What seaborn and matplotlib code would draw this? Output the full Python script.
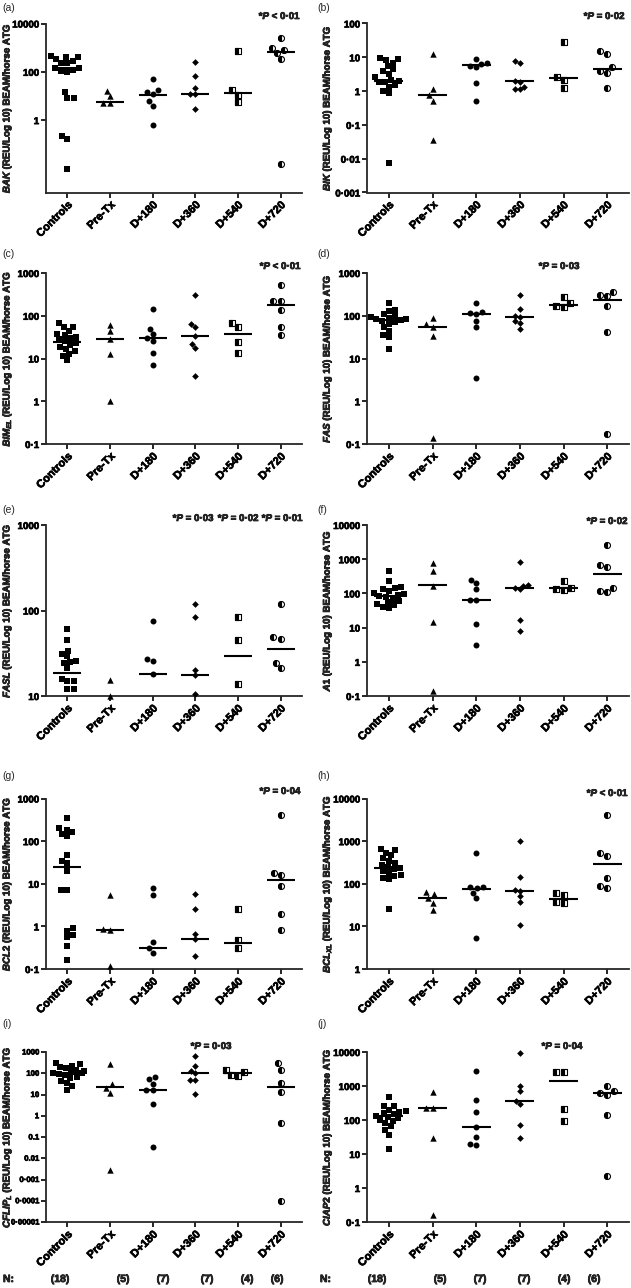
import numpy as np
import pandas as pd
import seaborn as sns
import matplotlib.pyplot as plt
import matplotlib.patheffects as pe
from matplotlib.markers import MarkerStyle
from matplotlib.ticker import NullLocator
from matplotlib.text import Text

sns.set_style("ticks")
plt.rcParams['font.family'] = ['Liberation Sans', 'DejaVu Sans']
plt.rcParams['font.weight'] = 'bold'
plt.rcParams['mathtext.fontset'] = 'custom'
plt.rcParams['mathtext.rm'] = 'Liberation Sans:bold'
plt.rcParams['mathtext.it'] = 'Liberation Sans:italic:bold'
plt.rcParams['mathtext.bf'] = 'Liberation Sans:bold'

groups = ["Controls", "Pre-Tx", "D+180", "D+360", "D+540", "D+720"]
n_counts = [18, 5, 7, 7, 4, 6]

# valores (REU), una lista por grupo
bak = [[450, 400, 400, 330, 290, 240, 230, 150, 140, 120, 110, 100, 14, 8.3, 8.3, 0.21, 0.17, 0.0093],
       [16.6, 9.7, 5.1, 5.0],
       [48, 17, 14, 12, 6.0, 3.7, 0.65],
       [257, 65, 21, 12, 12, 3.0],
       [710, 17, 11, 5.5],
       [2550, 950, 800, 600, 330, 0.015]]
bak_med = [145, 5.5, 11, 12, 13, 660]

bik = [[9.5, 9.0, 8.3, 6.9, 5.6, 4.5, 4.0, 3.3, 2.6, 2.2, 2.0, 1.9, 1.8, 1.5, 1.3, 1.0, 0.85, 0.0075],
       [12.5, 1.15, 0.75, 0.52, 0.035],
       [8.9, 6.8, 6.5, 5.7, 5.0, 1.7, 0.52],
       [7.9, 6.9, 2.0, 1.9, 1.3, 1.15, 1.15],
       [29, 2.7, 2.1, 1.2],
       [15, 12.6, 5.0, 4.0, 3.4, 1.2]]
bik_med = [2.0, 0.75, 5.9, 1.95, 2.4, 4.5]

bim = [[67, 56, 55, 45, 38, 35, 32, 30, 28, 25, 23, 21, 19, 17, 15, 13, 11.5, 9],
       [61, 43, 28, 13, 1.0],
       [146, 50, 37, 30, 26, 13.8, 6.9],
       [300, 63, 56, 33, 22, 18, 3.8],
       [67, 54, 24, 13.3],
       [530, 225, 225, 134, 54, 35]]
bim_med = [24, 28, 30, 33, 38, 174]

fas = [[200, 140, 130, 110, 100, 95, 90, 85, 82, 80, 75, 70, 65, 55, 45, 35, 32, 17],
       [89, 63, 56, 34, 0.14],
       [200, 120, 115, 110, 75, 54, 3.5],
       [310, 145, 100, 92, 75, 68, 50],
       [270, 200, 165, 160],
       [360, 300, 290, 170, 41, 0.17]]
fas_med = [81, 54, 110, 92, 175, 230]

fasl = [[60, 45, 34, 31, 29, 26, 25, 24, 21, 16, 15, 15, 12, 12],
        [15.4, 10],
        [76, 27, 25.5, 18],
        [120, 85, 20, 17.6, 10.6],
        [83, 45, 14],
        [120, 49, 47, 24.5, 21]]
fasl_med = [18.5, np.nan, 18.2, 17.6, 29.7, 35.5]

a1 = [[450, 230, 150, 140, 135, 120, 100, 95, 90, 85, 80, 70, 60, 55, 50, 45, 40, 37],
      [780, 445, 165, 14.4, 0.14],
      [250, 205, 133, 66, 64, 12.4, 3.0],
      [830, 175, 170, 145, 135, 17, 8],
      [235, 145, 135, 125],
      [2600, 680, 600, 145, 115, 112]]
a1_med = [82, 173, 66, 141, 141, 380]

bcl2 = [[355, 200, 185, 160, 150, 130, 46, 34, 30, 20, 7.2, 7.0, 0.9, 0.8, 0.62, 0.56, 0.34, 0.16],
        [5.4, 0.85, 0.82, 0.12],
        [7.8, 5.4, 0.43, 0.31, 0.24],
        [5.9, 2.6, 0.68, 0.51, 0.20],
        [2.5, 0.49, 0.31],
        [410, 18, 15.8, 8.9, 1.9, 0.81]]
bcl2_med = [24.5, 0.83, 0.31, 0.51, 0.40, 12.3]

bclxl = [[650, 620, 540, 470, 400, 350, 300, 275, 250, 230, 220, 200, 180, 160, 150, 140, 130, 26],
         [65, 56, 47, 36, 24],
         [515, 86, 82, 78, 62, 47, 5.2],
         [1000, 141, 70, 68, 52, 38, 10.7],
         [61, 54, 37, 35],
         [4100, 515, 455, 138, 90, 81]]
bclxl_med = [235, 47.5, 75, 68, 44, 295]

cflip = [[320, 260, 230, 200, 180, 150, 130, 115, 105, 100, 95, 85, 70, 60, 45, 35, 25, 17],
         [270, 31, 21, 12, 0.0029],
         [67, 54, 32, 17, 16, 3.5, 0.034],
         [670, 227, 123, 100, 50, 48, 11],
         [147, 110, 80, 75],
         [300, 147, 35, 12.6, 0.46, 0.0001]]
cflip_med = [100, 22, 17, 100, 100, 22]

ciap2 = [[470, 260, 250, 200, 185, 175, 165, 150, 135, 125, 115, 100, 95, 80, 65, 52, 37, 14],
         [660, 230, 225, 29, 0.16],
         [2700, 400, 175, 61, 31, 20, 19],
         [9300, 1020, 720, 370, 300, 72, 29],
         [2500, 2500, 210, 92],
         [980, 700, 620, 560, 145, 2.2]]
ciap2_med = [128, 225, 61, 370, 1370, 620]

paneles = [
    ("(a)", r"$\mathit{BAK}$", bak, bak_med, (1e-3, 1e4), [1, 100, 10000], ["1", "100", "10000"],
     [(r"*$\mathit{P}$ < 0·01", 280, 15)]),
    ("(b)", r"$\mathit{BIK}$", bik, bik_med, (1e-3, 1e2), [1e-3, 1e-2, 0.1, 1, 10, 100],
     ["0·001", "0·01", "0·1", "1", "10", "100"], [(r"*$\mathit{P}$ = 0·02", 605, 15)]),
    ("(c)", r"$\mathit{BIM}_{\mathit{EL}}$", bim, bim_med, (0.1, 1e3), [0.1, 1, 10, 100, 1000],
     ["0·1", "1", "10", "100", "1000"], [(r"*$\mathit{P}$ < 0·01", 281, 265)]),
    ("(d)", r"$\mathit{FAS}$", fas, fas_med, (0.1, 1e3), [0.1, 1, 10, 100, 1000],
     ["0·1", "1", "10", "100", "1000"], [(r"*$\mathit{P}$ = 0·03", 560, 265)]),
    ("(e)", r"$\mathit{FASL}$", fasl, fasl_med, (10, 1e3), [10, 100, 1000], ["10", "100", "1000"],
     [(r"*$\mathit{P}$ = 0·03", 194, 517), (r"*$\mathit{P}$ = 0·02", 239, 517),
      (r"*$\mathit{P}$ = 0·01", 283, 517)]),
    ("(f)", r"$\mathit{A1}$", a1, a1_med, (0.1, 1e4), [0.1, 1, 10, 100, 1000, 10000],
     ["0·1", "1", "10", "100", "1000", "10000"], [(r"*$\mathit{P}$ = 0·02", 608, 520)]),
    ("(g)", r"$\mathit{BCL2}$", bcl2, bcl2_med, (0.1, 1e3), [0.1, 1, 10, 100, 1000],
     ["0·1", "1", "10", "100", "1000"], [(r"*$\mathit{P}$ = 0·04", 281, 790)]),
    ("(h)", r"$\mathit{BCL}_{\mathit{XL}}$", bclxl, bclxl_med, (1, 1e4), [1, 10, 100, 1000, 10000],
     ["1", "10", "100", "1000", "10000"], [(r"*$\mathit{P}$ < 0·01", 608, 792)]),
    ("(i)", r"$\mathit{CFLIP}_{\mathit{L}}$", cflip, cflip_med, (1e-5, 1e3),
     [1e-5, 1e-4, 1e-3, 1e-2, 0.1, 1, 10, 100, 1000],
     ["0·00001", "0·0001", "0·001", "0.01", "0.1", "1", "10", "100", "1000"],
     [(r"*$\mathit{P}$ = 0·03", 212, 1045)]),
    ("(j)", r"$\mathit{CIAP2}$", ciap2, ciap2_med, (0.1, 1e4), [0.1, 1, 10, 100, 1000, 10000],
     ["0·1", "1", "10", "100", "1000", "10000"], [(r"*$\mathit{P}$ = 0·04", 563, 1045)]),
]

W, H = 631, 1288
marcadores = ['s', '^', 'o', 'D', 's', 'o']
medio_lleno = [False, False, False, False, True, True]
tamanos = [4.3, 4.6, 4.3, 3.4, 4.3, 4.3]

# posiciones en pixeles de la figura de referencia
filas = [(23.5, 192.5), (273, 444), (525, 696), (798.5, 969), (1052, 1222)]
columnas = [(46, 256), (367, 262)]
etiqueta_y = [8, 254, 510, 776, 1024]
n_x = [60, 123, 163, 207, 247, 277]

fig = plt.figure(figsize=(W / 100, H / 100), dpi=100)


def fx(x):
    return x / W


def fy(y):
    return 1 - y / H


for k, (letra, gen, valores, medianas, ylim, yt, ytl, ptxt) in enumerate(paneles):
    fila, col = k // 2, k % 2
    x0, ancho = columnas[col]
    top, bot = filas[fila]
    ax = fig.add_axes([fx(x0), fy(bot), ancho / W, (bot - top) / H])
    ax.set_yscale('log')

    df = pd.DataFrame({
        'grupo': np.repeat(groups, [len(v) for v in valores]),
        'valor': np.concatenate(valores),
    })
    for g, mk, half, ms in zip(groups, marcadores, medio_lleno, tamanos):
        sub = df[df['grupo'] == g]
        if half:
            sns.swarmplot(data=sub, x='grupo', y='valor', order=groups, ax=ax, marker=mk,
                          color='white', edgecolor='black', linewidth=0.8, size=ms,
                          clip_on=False, zorder=3)
            sns.swarmplot(data=sub, x='grupo', y='valor', order=groups, ax=ax,
                          marker=MarkerStyle(mk, fillstyle='left'), color='black',
                          edgecolor='black', linewidth=0.8, size=ms, clip_on=False, zorder=4)
        else:
            sns.swarmplot(data=sub, x='grupo', y='valor', order=groups, ax=ax, marker=mk,
                          color='black', linewidth=0, size=ms, clip_on=False, zorder=3)

    pos = np.arange(len(groups))
    med = np.array(medianas, dtype=float)
    ok = ~np.isnan(med)
    ax.hlines(med[ok], pos[ok] - 0.33, pos[ok] + 0.33, color='black', lw=1.5, zorder=5)

    ax.set_xlim(-0.5, len(groups) - 0.5)
    ax.set_ylim(*ylim)
    ax.set_yticks(yt)
    ax.set_yticklabels(ytl, fontsize=5.6 if len(yt) > 8 else 7, fontweight='bold')
    ax.yaxis.set_minor_locator(NullLocator())
    ax.set_xticks(pos)
    ax.set_xticklabels(groups, rotation=45, ha='right', rotation_mode='anchor',
                       fontsize=8, fontweight='bold')
    ax.set_xlabel('')
    ax.set_ylabel(gen + ' (REU/Log 10) BEAM/horse ATG', fontsize=7, fontweight='bold')
    ax.yaxis.set_label_coords(-0.127, 0.5)
    sns.despine(ax=ax)
    for s in ['left', 'bottom']:
        ax.spines[s].set_linewidth(1.3)
    ax.tick_params(axis='both', length=3.5, width=1.2, pad=1.5, colors='black')

    fig.text(fx(2 if col == 0 else 317), fy(etiqueta_y[fila]), letra, fontsize=7.5,
             fontweight='normal', ha='left', va='center')
    for t, px, py in ptxt:
        fig.text(fx(px), fy(py), t, fontsize=7, fontweight='bold', ha='center', va='center')

# fila de N al pie
for col, base in enumerate([0, 317]):
    fig.text(fx(base + 3), fy(1279), 'N:', fontsize=7.5, fontweight='bold', ha='left', va='center')
    for xn, n in zip(n_x, n_counts):
        fig.text(fx(base + xn), fy(1279), f'({n})', fontsize=7.5, fontweight='bold',
                 ha='center', va='center')

# texto un poco mas grueso, como en la figura impresa
for t in fig.findobj(Text):
    if t.get_text() and t.get_fontweight() in ('bold', 700):
        t.set_path_effects([pe.withStroke(linewidth=0.5, foreground='black')])

fig.savefig('out.png', dpi=100)
